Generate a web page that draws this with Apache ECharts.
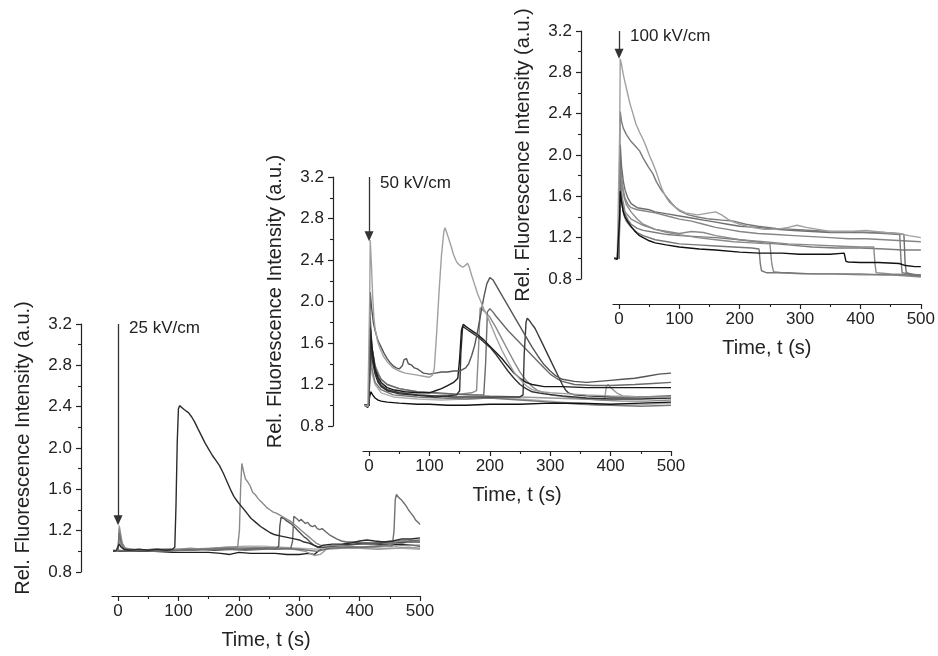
<!DOCTYPE html>
<html><head><meta charset="utf-8">
<script src="https://cdn.jsdelivr.net/npm/echarts@6/dist/echarts.min.js"></script>
<style>html,body{margin:0;padding:0;background:#fff}#c{width:938px;height:656px}</style>
</head><body><div id="c"></div>
<script>
// ---------- tick labels / annotations ----------
const xTicks = [0, 100, 200, 300, 400, 500];
const xMinorTicks = [50, 150, 250, 350, 450];
const fieldLabels = ['25 kV/cm', '50 kV/cm', '100 kV/cm'];
const arrowTop = 3.2;
const arrowTips = [1.30, 2.63, 2.98];
const yName = 'Rel. Fluorescence Intensity (a.u.)';
const xName = 'Time, t (s)';

// ---------- 25 kV/cm ----------
const p25_a = [[-8,1.00],[-3,1.01],[0,1.01],[2,1.07],[5,1.04],[10,1.02],[20,1.01],[35,1.02],[50,1.01],[65,1.02],[80,1.01],[90,1.02],[94,1.04],[96,1.45],[98,2.05],[100,2.38],[102,2.41],[106,2.39],[110,2.37],[113,2.38],[117,2.34],[122,2.30],[127,2.25],[132,2.19],[138,2.12],[144,2.05],[150,1.99],[156,1.93],[162,1.88],[168,1.83],[174,1.76],[180,1.68],[186,1.60],[192,1.53],[198,1.48],[205,1.43],[212,1.38],[220,1.32],[228,1.28],[236,1.24],[244,1.21],[252,1.18],[260,1.16],[268,1.15],[276,1.14],[284,1.13],[292,1.12],[300,1.11],[308,1.09],[316,1.08],[324,1.06],[332,1.04],[340,1.06],[355,1.07],[370,1.07],[385,1.08],[400,1.10],[412,1.11],[425,1.10],[440,1.09],[455,1.10],[470,1.12],[485,1.12],[500,1.13]];
const p25_b = [[-8,1.00],[-3,1.00],[0,1.02],[2,1.22],[4,1.15],[7,1.07],[12,1.03],[20,1.02],[40,1.01],[60,1.02],[80,1.01],[100,1.02],[120,1.03],[140,1.02],[160,1.03],[180,1.04],[198,1.04],[201,1.20],[203,1.62],[205,1.85],[208,1.77],[211,1.70],[215,1.67],[219,1.63],[223,1.57],[227,1.55],[232,1.51],[237,1.48],[242,1.45],[247,1.42],[252,1.40],[257,1.38],[262,1.37],[268,1.35],[274,1.33],[280,1.31],[286,1.29],[292,1.26],[298,1.23],[304,1.20],[310,1.17],[316,1.14],[322,1.11],[328,1.08],[335,1.06],[345,1.05],[360,1.06],[380,1.05],[400,1.04],[420,1.05],[440,1.06],[460,1.05],[480,1.06],[500,1.06]];
const p25_c = [[-8,1.01],[0,1.00],[15,1.00],[40,1.01],[70,1.00],[100,1.01],[130,1.02],[160,1.01],[190,1.02],[220,1.02],[245,1.03],[262,1.03],[266,1.05],[268,1.25],[270,1.33],[274,1.32],[278,1.30],[283,1.28],[288,1.26],[293,1.23],[298,1.20],[303,1.17],[308,1.14],[313,1.12],[318,1.09],[324,1.06],[330,1.04],[340,1.04],[360,1.05],[380,1.06],[400,1.07],[420,1.07],[440,1.08],[460,1.08],[480,1.09],[500,1.09]];
const p25_d = [[-8,1.00],[0,1.01],[20,1.00],[50,1.01],[80,1.02],[110,1.01],[140,1.02],[170,1.03],[200,1.02],[230,1.03],[260,1.02],[286,1.03],[289,1.10],[291,1.34],[294,1.33],[297,1.31],[300,1.29],[303,1.31],[306,1.30],[310,1.27],[314,1.28],[318,1.25],[322,1.24],[326,1.25],[330,1.22],[334,1.21],[338,1.22],[342,1.20],[346,1.18],[350,1.16],[356,1.14],[362,1.12],[370,1.10],[378,1.09],[390,1.09],[405,1.08],[420,1.08],[440,1.09],[460,1.10],[480,1.10],[500,1.11]];
const p25_e = [[-8,1.00],[0,1.00],[2,1.18],[5,1.08],[10,1.02],[30,1.01],[60,1.00],[90,1.01],[120,1.01],[150,1.02],[180,1.02],[210,1.01],[240,1.02],[270,1.03],[300,1.02],[330,1.00],[350,1.03],[380,1.04],[410,1.04],[440,1.05],[454,1.05],[457,1.20],[459,1.50],[461,1.55],[465,1.52],[469,1.50],[473,1.47],[477,1.44],[481,1.40],[485,1.37],[489,1.34],[493,1.30],[497,1.28],[500,1.26]];
const p25_f = [[-8,1.00],[0,1.00],[10,1.01],[30,1.00],[60,1.00],[90,0.99],[120,0.99],[150,0.99],[170,0.98],[185,0.97],[200,0.99],[220,0.98],[240,0.98],[260,0.98],[280,0.97],[300,0.97],[315,0.98],[325,0.97],[335,1.02],[350,1.05],[370,1.06],[390,1.07],[410,1.08],[430,1.07],[450,1.06],[470,1.07],[485,1.06],[500,1.05]];
const p25_g = [[-8,1.00],[0,1.00],[1,1.10],[2,1.25],[4,1.18],[7,1.08],[12,1.03],[25,1.02],[50,1.01],[80,1.00],[110,1.01],[140,1.02],[170,1.03],[200,1.04],[230,1.04],[260,1.03],[290,1.02],[310,1.00],[325,0.96],[335,0.97],[345,1.02],[370,1.03],[400,1.03],[430,1.02],[460,1.03],[480,1.04],[500,1.03]];
const p25_h = [[-8,1.01],[0,1.00],[2,1.12],[5,1.05],[10,1.02],[30,1.01],[60,1.02],[90,1.02],[120,1.02],[150,1.03],[180,1.04],[210,1.05],[240,1.05],[270,1.04],[300,1.03],[330,1.02],[350,1.04],[380,1.05],[410,1.04],[440,1.03],[470,1.03],[500,1.02]];

// ---------- 50 kV/cm ----------
const p50_l1 = [[-8,1.00],[-2,0.99],[0,1.00],[1,2.00],[2,2.59],[4,2.35],[6,2.05],[8,1.85],[10,1.74],[14,1.62],[18,1.55],[24,1.47],[30,1.42],[40,1.36],[50,1.33],[60,1.31],[70,1.30],[80,1.29],[90,1.28],[100,1.27],[105,1.29],[108,1.35],[112,1.70],[116,2.10],[120,2.45],[124,2.68],[126,2.71],[130,2.64],[135,2.55],[140,2.45],[145,2.38],[150,2.35],[155,2.33],[160,2.35],[163,2.37],[166,2.33],[170,2.25],[175,2.16],[180,2.07],[185,2.00],[190,1.93],[195,1.87],[200,1.80],[210,1.66],[220,1.53],[230,1.42],[240,1.32],[250,1.25],[260,1.19],[270,1.15],[285,1.13],[300,1.12],[330,1.11],[360,1.10],[400,1.09],[450,1.08],[500,1.08]];
const p50_d1 = [[-8,1.00],[0,1.00],[1,1.60],[2,2.09],[4,1.95],[7,1.80],[10,1.72],[15,1.62],[20,1.56],[25,1.50],[30,1.45],[35,1.41],[40,1.38],[45,1.36],[50,1.35],[55,1.38],[58,1.44],[62,1.45],[65,1.40],[70,1.39],[75,1.36],[80,1.35],[85,1.33],[90,1.31],[100,1.30],[110,1.31],[120,1.32],[130,1.32],[140,1.33],[150,1.33],[160,1.36],[165,1.40],[170,1.48],[175,1.58],[180,1.72],[185,1.88],[190,2.04],[195,2.17],[200,2.23],[205,2.21],[210,2.16],[220,2.06],[230,1.96],[240,1.86],[250,1.76],[260,1.66],[270,1.56],[280,1.47],[290,1.39],[300,1.33],[310,1.28],[320,1.25],[340,1.23],[360,1.22],[380,1.23],[400,1.24],[420,1.25],[440,1.26],[460,1.28],[480,1.30],[500,1.31]];
const p50_b1 = [[-8,1.00],[0,1.00],[1,1.50],[2,1.75],[5,1.55],[10,1.35],[15,1.27],[20,1.22],[30,1.17],[40,1.15],[60,1.13],[80,1.12],[100,1.12],[110,1.14],[120,1.16],[130,1.19],[140,1.22],[147,1.26],[150,1.45],[153,1.72],[156,1.78],[160,1.76],[165,1.74],[170,1.72],[180,1.68],[190,1.63],[200,1.57],[210,1.51],[220,1.45],[230,1.38],[240,1.31],[250,1.26],[260,1.22],[270,1.20],[290,1.18],[320,1.18],[360,1.17],[400,1.17],[450,1.17],[500,1.17]];
const p50_b2 = [[-8,1.00],[0,1.00],[2,1.65],[5,1.45],[10,1.30],[15,1.22],[20,1.18],[30,1.14],[50,1.11],[70,1.10],[90,1.09],[110,1.08],[130,1.09],[145,1.10],[150,1.14],[152,1.50],[155,1.76],[160,1.74],[170,1.70],[180,1.66],[190,1.61],[200,1.56],[210,1.49],[220,1.41],[230,1.33],[240,1.26],[250,1.20],[260,1.16],[270,1.13],[290,1.11],[320,1.09],[360,1.07],[400,1.06],[450,1.06],[500,1.07]];
const p50_ga = [[-8,1.00],[0,1.00],[2,1.70],[5,1.50],[10,1.33],[15,1.25],[20,1.20],[30,1.15],[50,1.12],[80,1.10],[110,1.09],[140,1.10],[170,1.12],[178,1.14],[181,1.50],[184,1.94],[188,1.92],[192,1.90],[200,1.85],[210,1.75],[220,1.64],[230,1.53],[240,1.42],[250,1.32],[260,1.24],[270,1.18],[280,1.14],[300,1.10],[340,1.07],[380,1.05],[420,1.04],[460,1.04],[500,1.05]];
const p50_gb = [[-8,1.00],[0,1.00],[2,1.80],[5,1.55],[10,1.38],[15,1.30],[20,1.25],[30,1.20],[50,1.16],[80,1.13],[110,1.12],[140,1.11],[170,1.10],[190,1.10],[193,1.40],[196,1.90],[200,1.93],[205,1.90],[210,1.86],[220,1.79],[230,1.72],[240,1.66],[250,1.60],[260,1.54],[270,1.48],[280,1.42],[290,1.36],[300,1.30],[310,1.26],[320,1.23],[340,1.20],[370,1.19],[400,1.19],[440,1.20],[470,1.21],[500,1.22]];
const p50_dk = [[-8,1.00],[0,1.00],[2,1.75],[5,1.50],[10,1.32],[15,1.24],[20,1.19],[30,1.15],[50,1.12],[80,1.10],[110,1.09],[140,1.08],[170,1.08],[200,1.08],[230,1.08],[250,1.08],[255,1.10],[257,1.50],[260,1.80],[262,1.84],[265,1.82],[270,1.78],[275,1.74],[280,1.68],[285,1.62],[290,1.56],[295,1.50],[300,1.44],[305,1.38],[310,1.32],[315,1.26],[320,1.20],[325,1.15],[330,1.12],[340,1.10],[360,1.09],[400,1.08],[450,1.08],[500,1.09]];
const p50_lb = [[-8,1.00],[-2,0.98],[0,0.99],[1,1.08],[3,1.13],[6,1.10],[10,1.07],[15,1.05],[20,1.04],[30,1.03],[50,1.02],[80,1.01],[100,1.01],[130,1.00],[160,1.00],[200,1.01],[250,1.01],[300,1.02],[350,1.02],[400,1.01],[450,1.02],[500,1.03]];
const p50_g1 = [[-8,1.00],[0,1.00],[2,1.85],[5,1.55],[10,1.38],[20,1.25],[30,1.20],[50,1.16],[80,1.13],[120,1.11],[160,1.10],[200,1.09],[250,1.08],[300,1.07],[350,1.06],[390,1.06],[393,1.18],[396,1.20],[400,1.17],[410,1.12],[420,1.09],[450,1.08],[500,1.08]];
const p50_g2 = [[-8,1.00],[0,1.00],[2,1.60],[5,1.35],[10,1.22],[20,1.15],[40,1.10],[80,1.08],[120,1.07],[160,1.06],[200,1.07],[250,1.05],[300,1.03],[350,1.01],[400,1.00],[450,0.99],[500,1.00]];
const p50_g3 = [[-8,1.00],[0,1.00],[2,1.50],[5,1.30],[10,1.20],[20,1.12],[40,1.08],[80,1.06],[120,1.05],[160,1.06],[200,1.07],[250,1.06],[300,1.04],[340,1.02],[380,1.00],[420,1.00],[460,1.01],[500,1.02]];

// ---------- 100 kV/cm ----------
const p100_a = [[-8,1.00],[-3,0.99],[0,1.00],[1,1.40],[2,1.65],[4,1.55],[7,1.45],[10,1.40],[15,1.35],[20,1.31],[25,1.27],[30,1.24],[34,1.22],[40,1.20],[50,1.17],[60,1.15],[78,1.13],[100,1.11],[133,1.09],[160,1.08],[200,1.06],[232,1.05],[270,1.05],[299,1.04],[330,1.04],[350,1.04],[373,1.05],[376,0.97],[380,0.965],[400,0.96],[430,0.96],[464,0.95],[475,0.93],[490,0.92],[500,0.92]];
const p100_b = [[-8,1.00],[0,1.00],[2,1.75],[4,1.55],[8,1.42],[12,1.36],[20,1.30],[30,1.25],[40,1.22],[60,1.18],[80,1.16],[100,1.14],[130,1.13],[160,1.12],[190,1.11],[220,1.10],[232,1.09],[234,0.95],[236,0.88],[245,0.86],[280,0.86],[320,0.85],[360,0.85],[400,0.85],[440,0.84],[470,0.84],[500,0.83]];
const p100_c = [[-8,1.00],[0,1.00],[2,2.00],[4,1.75],[8,1.60],[12,1.52],[20,1.45],[30,1.38],[40,1.33],[60,1.28],[80,1.25],[100,1.23],[130,1.20],[160,1.18],[190,1.16],[220,1.15],[250,1.14],[253,0.95],[256,0.87],[270,0.86],[300,0.85],[350,0.85],[400,0.84],[450,0.84],[500,0.82]];
const p100_d = [[-8,1.00],[0,1.00],[1,1.70],[2,2.10],[4,1.90],[7,1.75],[10,1.66],[15,1.58],[20,1.53],[30,1.49],[40,1.48],[50,1.47],[60,1.45],[80,1.43],[100,1.41],[120,1.39],[140,1.37],[160,1.35],[180,1.33],[200,1.31],[230,1.30],[260,1.28],[290,1.27],[320,1.26],[350,1.25],[380,1.25],[410,1.25],[440,1.25],[460,1.24],[472,1.23],[474,0.95],[476,0.86],[490,0.84],[500,0.83]];
const p100_e = [[-8,1.00],[0,1.00],[1,1.90],[2,2.42],[4,2.33],[7,2.26],[12,2.20],[20,2.13],[28,2.08],[34,2.04],[40,1.97],[48,1.89],[56,1.82],[62,1.74],[70,1.66],[78,1.60],[86,1.54],[94,1.49],[100,1.46],[115,1.42],[130,1.40],[150,1.38],[170,1.37],[190,1.36],[210,1.33],[230,1.31],[260,1.29],[290,1.28],[320,1.27],[350,1.26],[380,1.26],[410,1.25],[440,1.24],[465,1.23],[467,1.00],[469,0.86],[480,0.85],[500,0.84]];
const p100_f = [[-8,1.00],[-3,0.99],[0,1.00],[1,2.20],[2,2.93],[4,2.88],[7,2.78],[10,2.70],[14,2.60],[18,2.50],[23,2.40],[28,2.30],[34,2.22],[40,2.15],[45,2.08],[50,2.00],[56,1.92],[62,1.83],[67,1.74],[72,1.66],[78,1.59],[84,1.54],[90,1.51],[100,1.47],[110,1.44],[120,1.43],[130,1.42],[140,1.43],[150,1.44],[160,1.45],[170,1.42],[180,1.38],[190,1.35],[200,1.33],[220,1.30],[240,1.28],[260,1.28],[280,1.30],[295,1.32],[310,1.30],[330,1.28],[350,1.26],[380,1.26],[410,1.27],[440,1.25],[465,1.24],[480,1.22],[500,1.20]];
const p100_g = [[-8,1.00],[0,1.00],[1,1.60],[2,1.95],[4,1.78],[7,1.66],[10,1.58],[15,1.52],[20,1.49],[30,1.47],[40,1.46],[60,1.44],[80,1.41],[100,1.38],[120,1.36],[140,1.33],[160,1.30],[180,1.28],[200,1.26],[230,1.24],[260,1.23],[290,1.22],[320,1.21],[350,1.20],[380,1.19],[410,1.19],[440,1.18],[470,1.17],[500,1.16]];
const p100_h = [[-8,1.00],[0,1.00],[1,1.50],[2,1.72],[4,1.60],[7,1.50],[10,1.43],[15,1.37],[20,1.33],[30,1.29],[40,1.27],[60,1.25],[80,1.23],[100,1.22],[130,1.21],[160,1.20],[200,1.18],[240,1.15],[280,1.13],[320,1.11],[360,1.10],[400,1.10],[440,1.09],[470,1.08],[500,1.08]];
const p100_i = [[-8,1.00],[0,1.00],[2,1.80],[5,1.60],[10,1.45],[20,1.38],[40,1.32],[60,1.28],[80,1.26],[100,1.24],[120,1.26],[140,1.25],[160,1.22],[200,1.18],[240,1.16],[280,1.14],[320,1.13],[360,1.12],[400,1.11],[422,1.11],[424,0.95],[426,0.86],[450,0.85],[500,0.84]];

// ---------- build ----------
const FONT = '"Liberation Sans", Arial, sans-serif';
const INK = '#222';
const panels = [
  { grid:{left:112, top:324, width:308, height:248}, yOff:31, xOff:24,
    text:{left:129, top:320},
    lines:[[p25_f,'#1e1e1e'],[p25_h,'#b0b0b0'],[p25_g,'#9a9a9a'],[p25_c,'#505050'],[p25_d,'#6a6a6a'],[p25_b,'#8a8a8a'],[p25_e,'#707070'],[p25_a,'#2b2b2b']] },
  { grid:{left:363, top:177, width:308, height:249}, yOff:30, xOff:25,
    text:{left:380, top:175},
    lines:[[p50_g3,'#b0b0b0'],[p50_g2,'#777777'],[p50_g1,'#9a9a9a'],[p50_lb,'#111111'],[p50_ga,'#8a8a8a'],[p50_gb,'#6a6a6a'],[p50_dk,'#3a3a3a'],[p50_b2,'#303030'],[p50_b1,'#1a1a1a'],[p50_d1,'#555555'],[p50_l1,'#a0a0a0']] },
  { grid:{left:613, top:31, width:309, height:248}, yOff:32, xOff:25,
    text:{left:630, top:28},
    lines:[[p100_h,'#7c7c7c'],[p100_g,'#858585'],[p100_i,'#8a8a8a'],[p100_c,'#8c8c8c'],[p100_b,'#777777'],[p100_d,'#6e6e6e'],[p100_e,'#7a7a7a'],[p100_f,'#a0a0a0'],[p100_a,'#111111']] }
];

const option = { animation:false, backgroundColor:'#fff', grid:[], xAxis:[], yAxis:[], series:[], graphic:[] };
panels.forEach((p, i) => {
  option.grid.push(Object.assign({containLabel:false}, p.grid));
  const axisLine = {show:true, onZero:false, lineStyle:{color:INK, width:1.2}};
  option.xAxis.push({
    type:'value', gridIndex:i, min:-10, max:500, position:'bottom', offset:p.xOff,
    axisLine, splitLine:{show:false},
    axisTick:{show:true, length:5, customValues:xTicks, lineStyle:{color:INK, width:1.2}},
    axisLabel:{customValues:xTicks, fontSize:17, color:INK, fontFamily:FONT, margin:7},
    name:xName, nameLocation:'middle', nameGap:34,
    nameTextStyle:{fontSize:20, color:INK, fontFamily:FONT}
  });
  option.xAxis.push({
    type:'value', gridIndex:i, min:-10, max:500, position:'bottom', offset:p.xOff,
    axisLine:{show:false}, splitLine:{show:false},
    axisTick:{show:true, length:3, customValues:xMinorTicks, lineStyle:{color:INK, width:1.1}},
    axisLabel:{show:false}
  });
  option.yAxis.push({
    type:'value', gridIndex:i, min:0.8, max:3.2, interval:0.4, position:'left', offset:p.yOff,
    axisLine, splitLine:{show:false},
    axisTick:{show:true, length:5, lineStyle:{color:INK, width:1.2}},
    minorTick:{show:true, splitNumber:2, length:3, lineStyle:{color:INK, width:1.1}},
    minorSplitLine:{show:false},
    axisLabel:{formatter:v => v.toFixed(1), fontSize:17, color:INK, fontFamily:FONT, margin:9},
    name:yName, nameLocation:'middle', nameGap:48, nameRotate:90,
    nameTextStyle:{fontSize:20, color:INK, fontFamily:FONT}
  });
  p.lines.forEach(([d, c]) => {
    option.series.push({
      type:'line', xAxisIndex:2*i, yAxisIndex:i, data:d, showSymbol:false, symbol:'none',
      lineStyle:{color:c, width:1.4}, silent:true, z:2
    });
  });
  option.series.push({
    type:'line', xAxisIndex:2*i, yAxisIndex:i, data:[], silent:true,
    markLine:{
      silent:true, symbol:['none','triangle'], symbolSize:[9,10], animation:false,
      lineStyle:{color:'#333', width:1.3, type:'solid'}, label:{show:false},
      data:[[{coord:[0, arrowTop]}, {coord:[0, arrowTips[i]]}]]
    }
  });
  option.graphic.push({
    type:'text', left:p.text.left, top:p.text.top,
    style:{text:fieldLabels[i], fontSize:17, fill:INK, fontFamily:FONT}
  });
});

const chart = echarts.init(document.getElementById('c'), null, {renderer:'canvas'});
chart.setOption(option);
</script></body></html>
